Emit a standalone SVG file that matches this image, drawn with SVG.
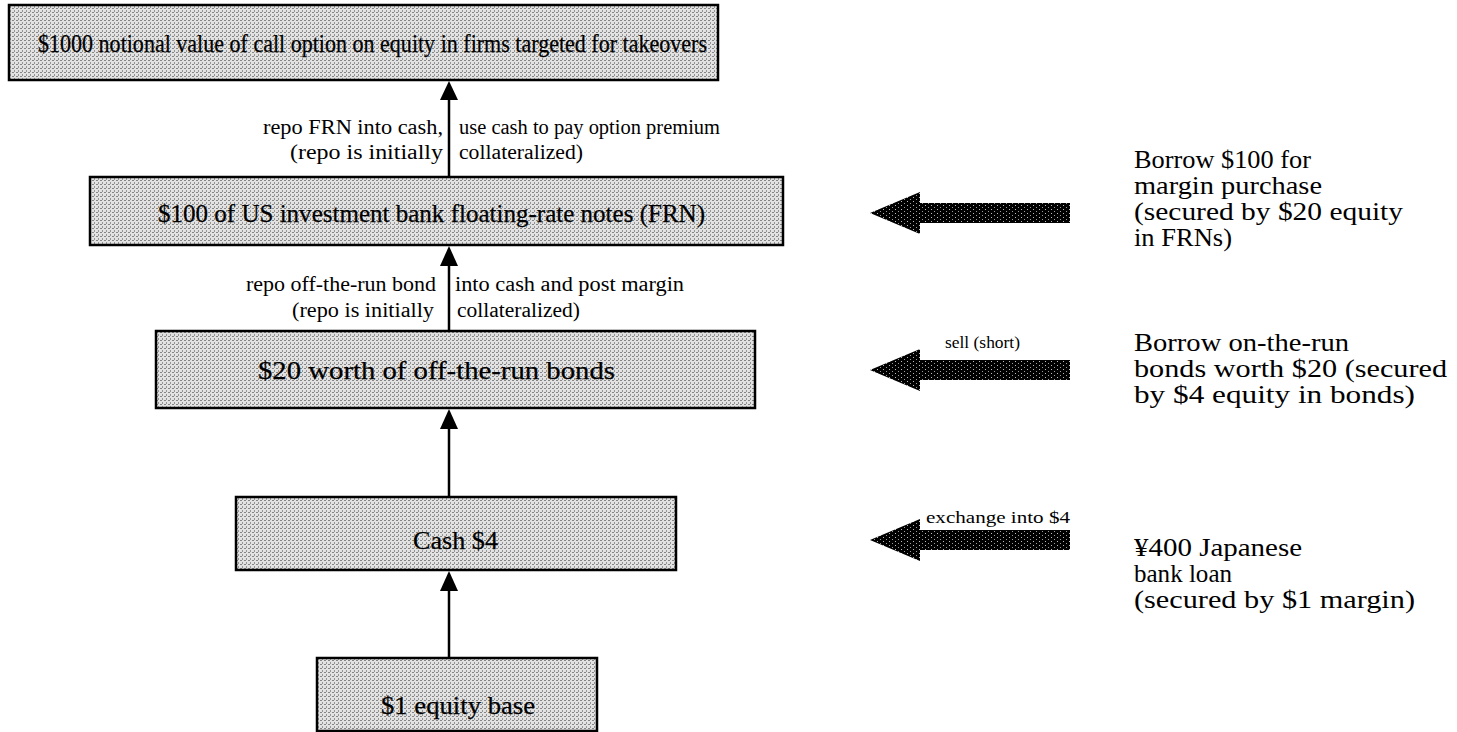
<svg xmlns="http://www.w3.org/2000/svg" width="1457" height="732" viewBox="0 0 1457 732">
<style>
.box{fill:url(#dots);stroke:#000;stroke-width:2.5}
.bt{font-family:"Liberation Serif","Times New Roman",serif;font-size:26px;fill:#000;stroke:#000;stroke-width:0.25}
.lb{font-family:"Liberation Serif","Times New Roman",serif;font-size:20px;fill:#000}
.sm{font-family:"Liberation Serif","Times New Roman",serif;font-size:17px;fill:#000}
.rt{font-family:"Liberation Serif","Times New Roman",serif;font-size:25px;fill:#000}
.conn{stroke:#000;stroke-width:2.5;fill:none}
.blk{fill:#000}
</style>
<defs>
<pattern id="dots" width="4" height="4" patternUnits="userSpaceOnUse">
<rect width="4" height="4" fill="#e2e2e2"/>
<rect x="0" y="0" width="2" height="1" fill="#858585"/>
<rect x="2" y="2" width="1" height="2" fill="#959595"/>
</pattern>
<pattern id="wdots" width="6" height="4" patternUnits="userSpaceOnUse">
<rect width="6" height="4" fill="#000"/>
<rect x="1" y="1" width="1" height="1" fill="#bbb"/>
<rect x="4" y="3" width="1" height="1" fill="#999"/>
</pattern>
</defs>

<g id="connectors">
<path class="conn" d="M449,177 V100"/>
<path d="M440,100 L449,81 L458,100 Z" class="blk"/>
<path class="conn" d="M449,331 V266"/>
<path d="M440,266 L449,246 L458,266 Z" class="blk"/>
<path class="conn" d="M449,497 V429"/>
<path d="M440,429 L449,409 L458,429 Z" class="blk"/>
<path class="conn" d="M449,658 V591"/>
<path d="M440,591 L449,571 L458,591 Z" class="blk"/>
<text class="lb" x="263" y="134" textLength="180" lengthAdjust="spacingAndGlyphs">repo FRN into cash,</text>
<text class="lb" x="290" y="159" textLength="153" lengthAdjust="spacingAndGlyphs">(repo is initially</text>
<text class="lb" x="459" y="134" textLength="261" lengthAdjust="spacingAndGlyphs">use cash to pay option premium</text>
<text class="lb" x="459" y="159" textLength="124" lengthAdjust="spacingAndGlyphs">collateralized)</text>
<text class="lb" x="246" y="291" textLength="190" lengthAdjust="spacingAndGlyphs">repo off-the-run bond</text>
<text class="lb" x="292" y="317" textLength="142" lengthAdjust="spacingAndGlyphs">(repo is initially</text>
<text class="lb" x="455" y="291" textLength="229" lengthAdjust="spacingAndGlyphs">into cash and post margin</text>
<text class="lb" x="457" y="317" textLength="123" lengthAdjust="spacingAndGlyphs">collateralized)</text>
</g>

<g id="n1">
<rect class="box" x="9" y="5" width="709" height="75"/>
<text class="bt" x="38" y="52" textLength="669" lengthAdjust="spacingAndGlyphs">$1000 notional value of call option on equity in firms targeted for takeovers</text>
</g>
<g id="n2">
<rect class="box" x="90" y="177" width="693" height="68"/>
<text class="bt" x="158" y="222" textLength="547" lengthAdjust="spacingAndGlyphs">$100 of US investment bank floating-rate notes (FRN)</text>
</g>
<g id="n3">
<rect class="box" x="156" y="331" width="599" height="77"/>
<text class="bt" x="258" y="379" textLength="357" lengthAdjust="spacingAndGlyphs">$20 worth of off-the-run bonds</text>
</g>
<g id="n4">
<rect class="box" x="236" y="497" width="440" height="73"/>
<text class="bt" x="413" y="549" textLength="85" lengthAdjust="spacingAndGlyphs">Cash $4</text>
</g>
<g id="n5">
<rect class="box" x="317" y="658" width="280" height="73"/>
<text class="bt" x="381" y="714" textLength="154" lengthAdjust="spacingAndGlyphs">$1 equity base</text>
</g>

<g id="arrowA">
<path d="M870,213 L920,192 L920,203 L1070,203 L1070,223 L920,223 L920,234 Z" fill="url(#wdots)"/>
</g>
<g id="arrowB">
<path d="M870,370 L920,349 L920,360 L1070,360 L1070,380 L920,380 L920,391 Z" fill="url(#wdots)"/>
<text class="sm" x="945" y="348" textLength="75" lengthAdjust="spacingAndGlyphs">sell  (short)</text>
</g>
<g id="arrowC">
<path d="M870,540 L920,519 L920,530 L1070,530 L1070,550 L920,550 L920,561 Z" fill="url(#wdots)"/>
<text class="sm" x="926" y="523" textLength="144" lengthAdjust="spacingAndGlyphs">exchange into $4</text>
</g>

<g id="noteA">
<text class="rt" x="1134" y="168" textLength="177" lengthAdjust="spacingAndGlyphs">Borrow $100 for</text>
<text class="rt" x="1134" y="194" textLength="188" lengthAdjust="spacingAndGlyphs">margin purchase</text>
<text class="rt" x="1134" y="220" textLength="269" lengthAdjust="spacingAndGlyphs">(secured by $20 equity</text>
<text class="rt" x="1134" y="246" textLength="98" lengthAdjust="spacingAndGlyphs">in FRNs)</text>
</g>
<g id="noteB">
<text class="rt" x="1134" y="351" textLength="215" lengthAdjust="spacingAndGlyphs">Borrow on-the-run</text>
<text class="rt" x="1134" y="377" textLength="313" lengthAdjust="spacingAndGlyphs">bonds worth $20 (secured</text>
<text class="rt" x="1134" y="403" textLength="281" lengthAdjust="spacingAndGlyphs">by $4 equity in bonds)</text>
</g>
<g id="noteC">
<text class="rt" x="1134" y="556" textLength="168" lengthAdjust="spacingAndGlyphs">¥400 Japanese</text>
<text class="rt" x="1134" y="582" textLength="98" lengthAdjust="spacingAndGlyphs">bank loan</text>
<text class="rt" x="1134" y="608" textLength="281" lengthAdjust="spacingAndGlyphs">(secured by $1 margin)</text>
</g>
</svg>
